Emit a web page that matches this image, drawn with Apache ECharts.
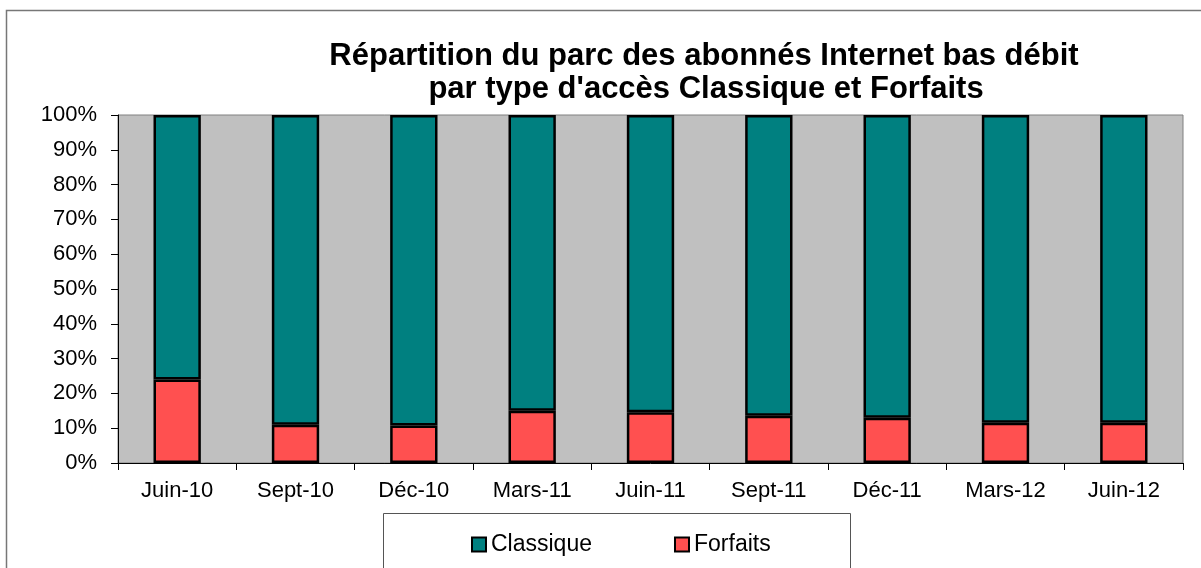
<!DOCTYPE html>
<html>
<head>
<meta charset="utf-8">
<script src="https://cdn.jsdelivr.net/npm/echarts@6/dist/echarts.min.js"></script>
<style>
	html, body { margin: 0; padding: 0; background: #fff; }
	#chart { width: 1201px; height: 568px; }
</style>
</head>
<body>
<div id="chart"></div>
<script>
var categories = ['Juin-10', 'Sept-10', 'Déc-10', 'Mars-11', 'Juin-11', 'Sept-11', 'Déc-11', 'Mars-12', 'Juin-12'];
var forfaits = [24.0, 11.0, 10.8, 15.0, 14.6, 13.6, 13.0, 11.6, 11.6];
var classique = [76.0, 89.0, 89.2, 85.0, 85.4, 86.4, 87.0, 88.4, 88.4];
var titleLines = ['Répartition du parc des abonnés Internet bas débit', 'par type d\'accès Classique et Forfaits'];

var font = "'Liberation Sans', Arial, sans-serif";

var chart = echarts.init(document.getElementById('chart'));

var option = {
	animation: false,
	backgroundColor: '#fff',
	textStyle: { fontFamily: font, color: '#000' },
	graphic: [
		{
			type: 'rect',
			shape: { x: 6.5, y: 10.5, width: 1210, height: 600 },
			style: { fill: 'none', stroke: '#777', lineWidth: 1.5 },
			silent: true
		},
		{
			type: 'rect',
			shape: { x: 383.5, y: 513.5, width: 467, height: 60 },
			style: { fill: '#fff', stroke: '#555', lineWidth: 1 },
			silent: true,
			z: 1
		},
		{
			type: 'text',
			x: 704, y: 56,
			style: { text: titleLines[0], font: 'bold 31px ' + font, fill: '#000', textAlign: 'center', textVerticalAlign: 'middle' }
		},
		{
			type: 'text',
			x: 706, y: 89,
			style: { text: titleLines[1], font: 'bold 31px ' + font, fill: '#000', textAlign: 'center', textVerticalAlign: 'middle' }
		}
	],
	legend: {
		data: ['Classique', 'Forfaits'],
		left: 466,
		top: 528,
		itemWidth: 14,
		itemHeight: 14,
		itemGap: 82,
		icon: 'rect',
		z: 5,
		textStyle: { fontSize: 23, fontFamily: font, color: '#000', padding: [0, 0, 0, 0] }
	},
	grid: {
		left: 118,
		right: 18,
		top: 115,
		bottom: 105,
		show: true,
		backgroundColor: '#C0C0C0',
		borderColor: '#808080',
		borderWidth: 1
	},
	xAxis: {
		type: 'category',
		data: categories,
		axisLine: { lineStyle: { color: '#000', width: 1 } },
		axisTick: { show: true, alignWithLabel: false, length: 7, lineStyle: { color: '#000' } },
		axisLabel: { fontSize: 22, color: '#000', margin: 17, fontFamily: font },
		splitLine: { show: false }
	},
	yAxis: {
		type: 'value',
		min: 0,
		max: 100,
		interval: 10,
		axisLine: { show: true, lineStyle: { color: '#000', width: 1 } },
		axisTick: { show: true, length: 7, lineStyle: { color: '#000' } },
		axisLabel: { fontSize: 22, color: '#000', margin: 21, formatter: '{value}%', fontFamily: font },
		splitLine: { show: false }
	},
	series: [
		{
			name: 'Forfaits',
			type: 'bar',
			stack: 'total',
			barWidth: '40%',
			data: forfaits,
			itemStyle: { color: '#FF5050', borderColor: '#000', borderWidth: 2.5 }
		},
		{
			name: 'Classique',
			type: 'bar',
			stack: 'total',
			barWidth: '40%',
			data: classique,
			itemStyle: { color: '#008080', borderColor: '#000', borderWidth: 2.5 }
		}
	]
};

chart.setOption(option);
</script>
</body>
</html>
